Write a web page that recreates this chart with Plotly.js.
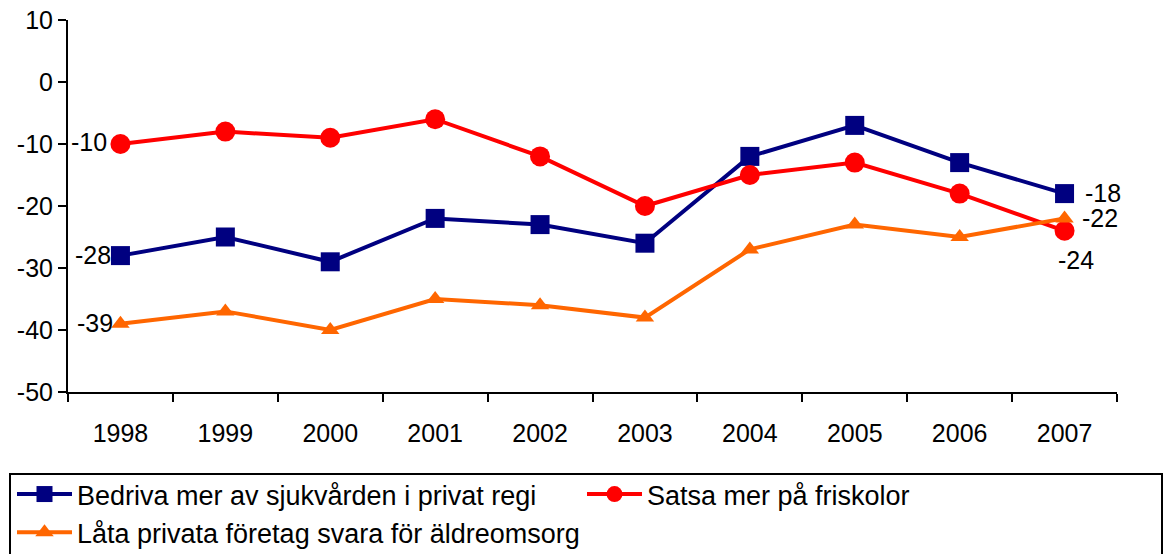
<!DOCTYPE html>
<html>
<head>
<meta charset="utf-8">
<script src="https://cdn.plot.ly/plotly-3.0.1.min.js"></script>
<style>html,body{margin:0;padding:0;background:#fff;}#chart{width:1165px;height:554px;}</style>
</head>
<body>
<div id="chart"></div>
<script>
const years = ['1998','1999','2000','2001','2002','2003','2004','2005','2006','2007'];
const seriesNames = ['Bedriva mer av sjukvården i privat regi','Satsa mer på friskolor','Låta privata företag svara för äldreomsorg'];
const sjukvard = [-28,-25,-29,-22,-23,-26,-12,-7,-13,-18];
const friskolor = [-10,-8,-9,-6,-12,-20,-15,-13,-18,-24];
const aldreomsorg = [-39,-37,-40,-35,-36,-38,-27,-23,-25,-22];
const yTicks = [10,0,-10,-20,-30,-40,-50];

const font = 'Arial, "Liberation Sans", sans-serif';
const FS = 25;
const LFS = 27;

const traces = [
  {x: years, y: sjukvard, name: seriesNames[0], type:'scatter', mode:'lines+markers', legend:'legend',
   line:{color:'#000080', width:4}, marker:{symbol:'square', size:19, color:'#000080'}, cliponaxis:false},
  {x: years, y: friskolor, name: seriesNames[1], type:'scatter', mode:'lines+markers', legend:'legend2',
   line:{color:'#FF0000', width:4}, marker:{symbol:'circle', size:20, color:'#FF0000'}, cliponaxis:false},
  {x: years, y: aldreomsorg, name: seriesNames[2], type:'scatter', mode:'lines+markers', legend:'legend',
   line:{color:'#FF6600', width:4}, marker:{symbol:'triangle-up', size:16, color:'#FF6600'}, cliponaxis:false}
];

// value labels for first and last points, placed relative to the data point (x = category index)
const last = years.length - 1;
function lab(series, idx, xanchor, xshift, yshift){
  return {x: idx, y: series[idx], xref:'x', yref:'y', text: String(series[idx]), showarrow:false,
          xanchor: xanchor, yanchor:'middle', xshift: xshift, yshift: yshift,
          font:{family:font, size:FS, color:'#000'}};
}
const annotations = [
  lab(friskolor, 0, 'right', -11, 2),
  lab(sjukvard, 0, 'right', -7, 1),
  lab(aldreomsorg, 0, 'right', -5, 1),
  lab(sjukvard, last, 'left', 18, 1),
  lab(aldreomsorg, last, 'left', 15, 0),
  lab(friskolor, last, 'left', -9, -29)
];

// legend frame in paper coordinates (plot area: x 68..1117 px, y 20..392 px)
const PX0 = 68, PW = 1049, PY0 = 392, PH = 372;
const shapes = [{type:'rect', xref:'paper', yref:'paper',
  x0:(10-PX0)/PW, x1:(1162-PX0)/PW, y0:(PY0-474)/PH, y1:(PY0-580)/PH,
  line:{color:'#000', width:2}, fillcolor:'rgba(0,0,0,0)'}];

const legendCommon = {orientation:'v', xref:'container', yref:'container', xanchor:'left', yanchor:'top',
  borderwidth:0, bgcolor:'rgba(0,0,0,0)', font:{family:font, size:LFS, color:'#000'},
  traceorder:'normal', itemwidth:55};

const layout = {
  width:1165, height:554,
  margin:{l:68, r:48, t:20, b:162, autoexpand:false},
  paper_bgcolor:'#fff', plot_bgcolor:'#fff',
  font:{family:font, size:FS, color:'#000'},
  showlegend:true,
  annotations: annotations,
  shapes: shapes,
  xaxis:{type:'category', showgrid:false, zeroline:false, showline:true, linecolor:'#000', linewidth:2,
         ticks:'outside', ticklen:8, tickwidth:2, tickcolor:'#000', tickson:'boundaries',
         tickfont:{family:font, size:FS, color:'#000'}, ticklabelstandoff:18, range:[-0.5,9.5]},
  yaxis:{range:[-50,10], tickvals:yTicks, ticktext:yTicks.map(String), showgrid:false, zeroline:false,
         showline:true, linecolor:'#000', linewidth:2, ticks:'outside', ticklen:8, tickwidth:2, tickcolor:'#000',
         tickfont:{family:font, size:FS, color:'#000'}, ticklabelstandoff:0},
  legend: Object.assign({}, legendCommon, {x:12/1165, y:1-470/554}),
  legend2: Object.assign({}, legendCommon, {x:582/1165, y:1-470/554})
};

Plotly.newPlot('chart', traces, layout, {displayModeBar:false, staticPlot:true});
</script>
</body>
</html>
